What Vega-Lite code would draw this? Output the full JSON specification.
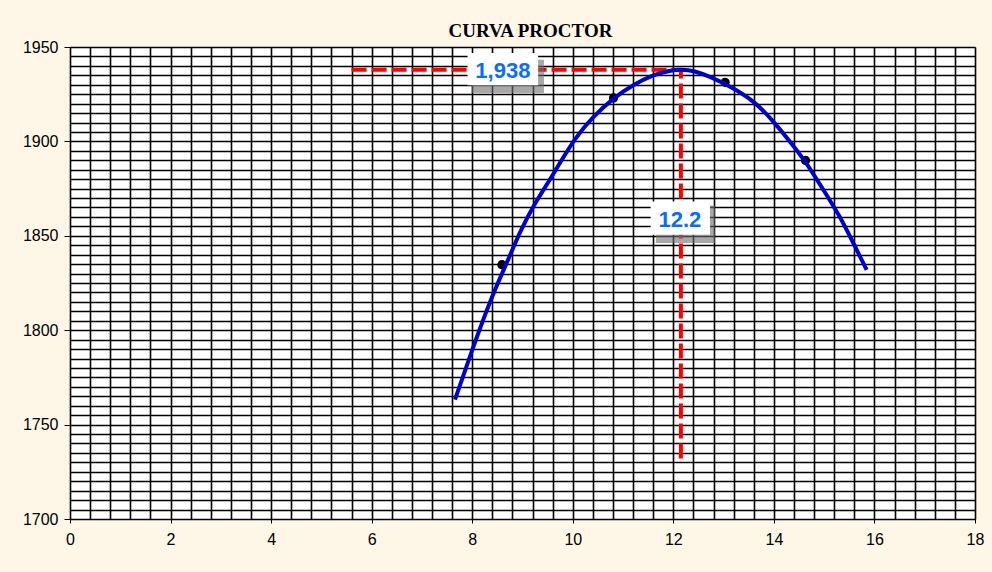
{
  "$schema": "https://vega.github.io/schema/vega-lite/v6.json",
  "autosize": "none",
  "width": 905,
  "height": 472,
  "padding": {"left": 70, "top": 47, "right": 17, "bottom": 53},
  "background": "#FEF6E6",
  "config": {
    "view": {"fill": "#FFFFFF", "stroke": "#888888", "strokeWidth": 1}
  },
  "title": {
    "text": "CURVA PROCTOR",
    "font": "Liberation Serif",
    "fontSize": 19,
    "fontWeight": "bold",
    "color": "#000000",
    "anchor": "middle",
    "baseline": "alphabetic",
    "offset": 11,
    "dx": 8,
    "dy": 28
  },
  "datasets": {
    "curve": [
      {"x": 7.657, "y": 1763.2},
      {"x": 8.021, "y": 1791.4},
      {"x": 8.387, "y": 1817.9},
      {"x": 8.717, "y": 1837.3},
      {"x": 8.95, "y": 1852.3},
      {"x": 9.248, "y": 1867.4},
      {"x": 9.547, "y": 1879.7},
      {"x": 9.745, "y": 1888.6},
      {"x": 10.044, "y": 1901.8},
      {"x": 10.408, "y": 1913.2},
      {"x": 10.806, "y": 1923.0},
      {"x": 11.203, "y": 1930.0},
      {"x": 11.601, "y": 1935.3},
      {"x": 11.933, "y": 1937.6},
      {"x": 12.17, "y": 1938.2},
      {"x": 12.397, "y": 1937.6},
      {"x": 12.794, "y": 1933.6},
      {"x": 13.192, "y": 1928.3},
      {"x": 13.657, "y": 1920.3},
      {"x": 13.988, "y": 1910.6},
      {"x": 14.32, "y": 1900.0},
      {"x": 14.652, "y": 1888.6},
      {"x": 14.982, "y": 1874.4},
      {"x": 15.314, "y": 1860.3},
      {"x": 15.579, "y": 1846.2},
      {"x": 15.845, "y": 1832.0}
    ],
    "points": [
      {"x": 8.59, "y": 1834.7},
      {"x": 10.81, "y": 1923.0},
      {"x": 13.03, "y": 1931.3},
      {"x": 14.63, "y": 1889.9}
    ],
    "guides": [
      {"x": 5.6, "x2": 12.15, "y": 1938, "y2": 1938},
      {"x": 12.15, "x2": 12.15, "y": 1732, "y2": 1938}
    ],
    "boxes": [
      {"label": "1,938", "x": 7.907, "x2": 9.311, "y": 1929.7, "y2": 1946.8, "sx": 7.989, "sx2": 9.427, "sy": 1925.6, "sy2": 1943.3, "tx": 8.61, "ty": 1937.1},
      {"label": "12.2", "x": 11.549, "x2": 12.729, "y": 1850.5, "y2": 1868.2, "sx": 11.655, "sx2": 12.828, "sy": 1846.2, "sy2": 1866.0, "tx": 12.13, "ty": 1858.5}
    ]
  },
  "layer": [
    {
      "data": {"name": "guides"},
      "mark": {"type": "rule", "color": "#FF0000", "strokeWidth": 4, "strokeDash": [15, 5]},
      "encoding": {
        "x": {
          "field": "x", "type": "quantitative",
          "scale": {"domain": [0, 18], "nice": false, "zero": false},
          "axis": {
            "values": [0,0.4,0.8,1.2,1.6,2,2.4,2.8,3.2,3.6,4,4.4,4.8,5.2,5.6,6,6.4,6.8,7.2,7.6,8,8.4,8.8,9.2,9.6,10,10.4,10.8,11.2,11.6,12,12.4,12.8,13.2,13.6,14,14.4,14.8,15.2,15.6,16,16.4,16.8,17.2,17.6,18],
            "tickCount": 200,
            "title": null,
            "grid": true,
            "gridColor": "#000000",
            "gridWidth": 1.6,
            "gridOpacity": 1,
            "domainColor": "#000000",
            "domainWidth": 1,
            "tickColor": "#000000",
            "tickSize": 4,
            "tickOpacity": {"condition": {"test": "datum.value % 2 === 0", "value": 1}, "value": 0},
            "labelExpr": "datum.value % 2 === 0 ? format(datum.value, 'd') : ''",
            "labelFont": "Liberation Sans",
            "labelFontSize": 16,
            "labelColor": "#000000",
            "labelPadding": 8,
            "labelOverlap": false,
            "labelFlush": false,
            "labelBound": false
          }
        },
        "x2": {"field": "x2"},
        "y": {
          "field": "y", "type": "quantitative",
          "scale": {"domain": [1700, 1950], "nice": false, "zero": false},
          "axis": {
            "values": [1700,1705,1710,1715,1720,1725,1730,1735,1740,1745,1750,1755,1760,1765,1770,1775,1780,1785,1790,1795,1800,1805,1810,1815,1820,1825,1830,1835,1840,1845,1850,1855,1860,1865,1870,1875,1880,1885,1890,1895,1900,1905,1910,1915,1920,1925,1930,1935,1940,1945,1950],
            "tickCount": 200,
            "format": "d",
            "title": null,
            "grid": true,
            "gridColor": "#000000",
            "gridWidth": 1.6,
            "gridOpacity": 1,
            "domainColor": "#000000",
            "domainWidth": 1,
            "tickColor": "#000000",
            "tickSize": 6,
            "tickOpacity": {"condition": {"test": "datum.value % 50 === 0", "value": 1}, "value": 0},
            "labelExpr": "datum.value % 50 === 0 ? datum.label : ''",
            "labelFont": "Liberation Sans",
            "labelFontSize": 16,
            "labelColor": "#000000",
            "labelPadding": 6,
            "labelOverlap": false,
            "labelFlush": false,
            "labelBound": false
          }
        },
        "y2": {"field": "y2"}
      }
    },
    {
      "data": {"name": "boxes"},
      "mark": {"type": "rect", "fill": "#6E6E6E", "opacity": 0.6},
      "encoding": {
        "x": {"field": "sx", "type": "quantitative"},
        "x2": {"field": "sx2"},
        "y": {"field": "sy", "type": "quantitative"},
        "y2": {"field": "sy2"}
      }
    },
    {
      "data": {"name": "boxes"},
      "mark": {"type": "rect", "fill": "#FFFFFF"},
      "encoding": {
        "x": {"field": "x", "type": "quantitative"},
        "x2": {"field": "x2"},
        "y": {"field": "y", "type": "quantitative"},
        "y2": {"field": "y2"}
      }
    },
    {
      "data": {"name": "boxes"},
      "mark": {"type": "text", "font": "Liberation Sans", "fontSize": 22, "fontWeight": "bold", "color": "#0A6CFF", "align": "center", "baseline": "middle"},
      "encoding": {
        "x": {"field": "tx", "type": "quantitative"},
        "y": {"field": "ty", "type": "quantitative"},
        "text": {"field": "label"}
      }
    },
    {
      "data": {"name": "points"},
      "mark": {"type": "point", "filled": true, "color": "#000000", "size": 85, "opacity": 1},
      "encoding": {
        "x": {"field": "x", "type": "quantitative"},
        "y": {"field": "y", "type": "quantitative"}
      }
    },
    {
      "data": {"name": "curve"},
      "mark": {"type": "line", "color": "#0000CC", "strokeWidth": 4, "interpolate": "basis"},
      "encoding": {
        "x": {"field": "x", "type": "quantitative"},
        "y": {"field": "y", "type": "quantitative"}
      }
    }
  ]
}
